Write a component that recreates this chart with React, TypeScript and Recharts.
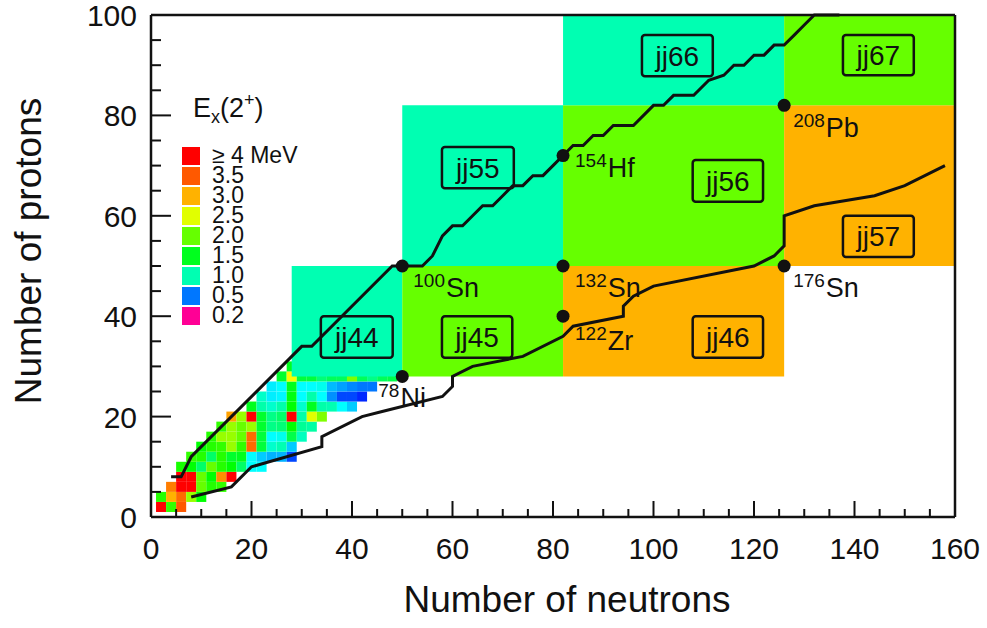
import React from 'react';
import { ScatterChart, Scatter, XAxis, YAxis, ReferenceArea, Legend } from 'recharts';

const FONT = '"Liberation Sans", Arial, Helvetica, sans-serif';
const INK = '#111';

// E(2+) of even-even nuclei, one row per proton number: [N, E in MeV]
const rowZ2 = [[2, 4.2], [4, 1.8], [6, 3.5]];
const rowZ4 = [[2, 1.75], [4, 3.0], [6, 3.4], [8, 2.2], [10, 1.6]];
const rowZ6 = [[4, 3.3], [6, 4.2], [8, 4.2], [10, 2.0], [12, 1.75], [14, 1.8]];
const rowZ8 = [[6, 4.2], [8, 4.2], [10, 2.0], [12, 1.6], [14, 3.2], [16, 4.2]];
const rowZ10 = [[6, 1.7], [8, 1.6], [10, 1.25], [12, 2.0], [14, 1.75], [16, 1.6], [18, 1.25], [20, 0.82], [22, 0.82]];
const rowZ12 = [[8, 1.8], [10, 1.75], [12, 1.25], [14, 1.75], [16, 1.45], [18, 1.5], [20, 0.82], [22, 0.7], [24, 0.64], [26, 0.64], [28, 0.47]];
const rowZ14 = [[10, 1.6], [12, 1.75], [14, 1.8], [16, 2.2], [18, 1.8], [20, 3.4], [22, 1.4], [24, 0.94], [26, 1.0], [28, 0.7]];
const rowZ16 = [[12, 1.75], [14, 2.2], [16, 2.2], [18, 2.0], [20, 3.4], [22, 1.4], [24, 0.82], [26, 0.86], [28, 1.35], [30, 0.97]];
const rowZ18 = [[14, 1.8], [16, 2.2], [18, 2.0], [20, 2.2], [22, 1.45], [24, 1.15], [26, 1.2], [28, 1.6], [30, 1.1], [32, 1.05]];
const rowZ20 = [[16, 3.1], [18, 2.2], [20, 4.2], [22, 1.45], [24, 1.15], [26, 1.25], [28, 4.2], [30, 1.03], [32, 2.5], [34, 2.1]];
const rowZ22 = [[20, 1.5], [22, 1.03], [24, 0.94], [26, 1.03], [28, 1.6], [30, 0.94], [32, 1.5], [34, 1.03], [36, 1.0], [38, 0.82], [40, 0.7]];
const rowZ24 = [[22, 0.95], [24, 0.78], [26, 0.8], [28, 1.55], [30, 0.82], [32, 1.03], [34, 0.82], [36, 0.56], [38, 0.47], [40, 0.47], [42, 0.45]];
const rowZ26 = [[24, 0.78], [26, 0.82], [28, 1.5], [30, 0.82], [32, 0.82], [34, 0.86], [36, 0.66], [38, 0.6], [40, 0.54], [42, 0.5], [44, 0.5]];
const rowZ28 = [[26, 1.45], [28, 2.6], [30, 1.4], [32, 1.4], [34, 1.2], [36, 1.3], [38, 1.3], [40, 2.1], [42, 1.3], [44, 1.15], [46, 1.3], [48, 1.35]];
const rowZ30 = [[28, 1.5]];

const rows: [number, number[][]][] = [
  [2, rowZ2], [4, rowZ4], [6, rowZ6], [8, rowZ8], [10, rowZ10], [12, rowZ12], [14, rowZ14],
  [16, rowZ16], [18, rowZ18], [20, rowZ20], [22, rowZ22], [24, rowZ24], [26, rowZ26], [28, rowZ28], [30, rowZ30],
];

// drip lines
const protonDrip = [[4, 8], [6, 8], [8, 12], [30, 34], [32, 34], [48, 50], [50, 50], [54, 50], [56, 52], [58, 56], [60, 58], [62, 58],
  [64, 60], [66, 62], [68, 62], [70, 64], [72, 66], [74, 66], [76, 68], [78, 68], [80, 70], [82, 72], [84, 74], [86, 74], [88, 76],
  [90, 76], [92, 78], [96, 78], [100, 82], [102, 82], [104, 84], [108, 84], [111, 87], [114, 88], [116, 90], [118, 90], [120, 92],
  [122, 92], [124, 94], [126, 94], [128, 96], [130, 98], [132, 100], [137, 100]];
const neutronDrip = [[8, 4], [16, 6], [20, 10], [34, 14], [34, 16], [42, 20], [46, 21], [58, 24], [60, 26], [60, 28], [64, 30], [74, 32],
  [82, 36], [84, 38], [94, 40], [94, 42], [96, 44], [100, 46], [120, 50], [124, 52], [126, 54], [126, 60], [132, 62], [144, 64],
  [150, 66], [158, 70]];

// doubly magic / reference nuclei
const nuclei = [
  { a: 78, el: 'Ni', n: 50, z: 28 },
  { a: 100, el: 'Sn', n: 50, z: 50 },
  { a: 154, el: 'Hf', n: 82, z: 72 },
  { a: 132, el: 'Sn', n: 82, z: 50 },
  { a: 122, el: 'Zr', n: 82, z: 40 },
  { a: 208, el: 'Pb', n: 126, z: 82 },
  { a: 176, el: 'Sn', n: 126, z: 50 },
];

// model spaces: [name, N from, N to, Z from, Z to]
const spaces: [string, number, number, number, number][] = [
  ['jj44', 28, 50, 28, 50], ['jj45', 50, 82, 28, 50], ['jj46', 82, 126, 28, 50],
  ['jj55', 50, 82, 50, 82], ['jj56', 82, 126, 50, 82], ['jj57', 126, 160, 50, 82],
  ['jj66', 82, 126, 82, 100], ['jj67', 126, 160, 82, 100],
];
const spaceE: Record<string, number> = { jj44: 1.0, jj55: 1.0, jj66: 1.0, jj45: 2.0, jj56: 2.0, jj67: 2.0, jj46: 3.0, jj57: 3.0 };

// name tags of the model spaces: [name, N from, N to, Z from, Z to]
const tags: [string, number, number, number, number][] = [
  ['jj44', 33.8, 48.1, 31.7, 40], ['jj45', 57.9, 71.9, 31.7, 40], ['jj46', 107.8, 121.8, 31.7, 40],
  ['jj55', 57.9, 72.2, 65.5, 73.7], ['jj56', 107.8, 121.8, 62.8, 71.1], ['jj57', 137.7, 151.8, 51.8, 60],
  ['jj66', 97.7, 111.8, 87.8, 96], ['jj67', 137.7, 151.8, 88, 96],
];

const legendLabels = ['≥ 4 MeV', '3.5', '3.0', '2.5', '2.0', '1.5', '1.0', '0.5', '0.2'];
const legendValues = [4.0, 3.5, 3.0, 2.5, 2.0, 1.5, 1.0, 0.5, 0.2];

const xTicks = [0, 5, 10, 15, 20, 25, 30, 35, 40, 45, 50, 55, 60, 65, 70, 75, 80, 85, 90, 95, 100, 105, 110, 115, 120, 125, 130, 135, 140, 145, 150, 155, 160];
const yTicks = [0, 5, 10, 15, 20, 25, 30, 35, 40, 45, 50, 55, 60, 65, 70, 75, 80, 85, 90, 95, 100];

const hueStops = [[0.2, 325], [0.5, 212], [1.0, 162], [1.5, 127], [2.0, 96], [2.5, 67], [3.0, 42], [3.5, 21], [4.0, 0]];
function colorFor(e: number) {
  if (e >= 4) return 'hsl(0,100%,50%)';
  if (e <= 0.2) return 'hsl(325,100%,50%)';
  for (let i = 0; i < hueStops.length - 1; i++) {
    const [e0, h0] = hueStops[i];
    const [e1, h1] = hueStops[i + 1];
    if (e >= e0 && e <= e1) {
      const h = h0 + ((e - e0) / (e1 - e0)) * (h1 - h0);
      return `hsl(${h.toFixed(1)},100%,50%)`;
    }
  }
  return '#000';
}

const W = 987;
const H = 628;
const LEFT = 151, RIGHT = 32, TOP = 15, BOTTOM = 111;
const cellW = ((W - LEFT - RIGHT) / 160) * 2;
const cellH = ((H - TOP - BOTTOM) / 100) * 2;

const labelOffset: Record<string, [number, number]> = {
  '78Ni': [-24, 21], '100Sn': [11, 21], '154Hf': [12, 11], '132Sn': [12, 21],
  '122Zr': [12, 24], '208Pb': [9, 22], '176Sn': [9, 21],
};

const cells = rows.flatMap(([z, row]) => row.map(([n, e]) => ({ n, z, e })));
const toPts = (arr: number[][]) => arr.map(([n, z]) => ({ n, z }));

function CellShape(props: any) {
  const { cx, cy, payload } = props;
  return <rect x={cx - cellW / 2} y={cy - cellH / 2} width={cellW} height={cellH} fill={colorFor(payload.e)} />;
}

function NucleusShape(props: any) {
  const { cx, cy, payload } = props;
  const [dx, dy] = labelOffset[`${payload.a}${payload.el}`] || [10, 20];
  return (
    <g>
      <circle cx={cx} cy={cy} r={6.5} fill={INK} />
      <text x={cx + dx} y={cy + dy} fontFamily={FONT} fill={INK}>
        <tspan fontSize={19}>{payload.a}</tspan>
        <tspan fontSize={27} dy={10} dx={1}>{payload.el}</tspan>
      </text>
    </g>
  );
}

const tickProps = { fontFamily: FONT, fill: INK, fontSize: 30 };

function BottomTick({ x, y, payload }: any) {
  const major = payload.value % 20 === 0;
  return (
    <g>
      <line x1={x} x2={x} y1={y} y2={y - (major ? 16 : 8)} stroke={INK} strokeWidth={2} />
      {major && <text x={x} y={y + 42} textAnchor="middle" {...tickProps}>{payload.value}</text>}
    </g>
  );
}
function TopTick({ x, y, payload }: any) {
  const major = payload.value % 20 === 0;
  return <line x1={x} x2={x} y1={y} y2={y + (major ? 17 : 9)} stroke={INK} strokeWidth={2} />;
}
function LeftTick({ x, y, payload }: any) {
  const major = payload.value % 20 === 0;
  return (
    <g>
      <line x1={x} x2={x + (major ? 20 : 10)} y1={y} y2={y} stroke={INK} strokeWidth={2} />
      {major && <text x={x - 14} y={y + 11} textAnchor="end" {...tickProps}>{payload.value}</text>}
    </g>
  );
}
function RightTick({ x, y, payload }: any) {
  const major = payload.value % 20 === 0;
  return <line x1={x} x2={x - (major ? 20 : 10)} y1={y} y2={y} stroke={INK} strokeWidth={2} />;
}

function EnergyLegend() {
  return (
    <svg width={160} height={240} style={{ overflow: 'visible' }}>
      <text x={18} y={27} fontFamily={FONT} fill={INK} fontSize={27}>
        E<tspan fontSize={18} dy={6}>x</tspan>
        <tspan dy={-6}>(2</tspan>
        <tspan fontSize={18} dy={-11}>+</tspan>
        <tspan dy={11}>)</tspan>
      </text>
      {legendValues.map((v, i) => (
        <g key={i}>
          <rect x={7} y={57 + i * 20} width={18} height={18} fill={colorFor(v)} />
          <text x={37} y={73 + i * 20} fontFamily={FONT} fill={INK} fontSize={23}>{legendLabels[i]}</text>
        </g>
      ))}
    </svg>
  );
}

export default function App() {
  const axisLine = { stroke: INK, strokeWidth: 2.5 };
  return (
    <div style={{ position: 'absolute', left: 0, top: 0, width: W, height: H, background: '#fff', fontFamily: FONT }}>
      <ScatterChart width={W} height={H} margin={{ top: 0, right: 0, bottom: 0, left: 0 }}>
        <Scatter data={cells} shape={CellShape} isAnimationActive={false} zIndex={300} />
        {spaces.map(([name, n1, n2, z1, z2]) => (
          <ReferenceArea key={name} x1={n1} x2={n2} y1={z1} y2={z2} fill={colorFor(spaceE[name])} fillOpacity={1}
            stroke="none" ifOverflow="visible" zIndex={400} />
        ))}
        <XAxis type="number" dataKey="n" domain={[0, 160]} ticks={xTicks} interval={0} height={BOTTOM}
          tickSize={0} tickMargin={0} tickLine={false} axisLine={axisLine} tick={BottomTick}
          label={{
            content: ({ viewBox }: any) => (
              <text x={viewBox.x + viewBox.width / 2 + 14} y={viewBox.y + 95} textAnchor="middle"
                fontFamily={FONT} fontSize={37} fill={INK}>Number of neutrons</text>
            ),
          }} />
        <XAxis xAxisId="top" orientation="top" type="number" domain={[0, 160]} ticks={xTicks} interval={0} height={TOP}
          tickSize={0} tickMargin={0} tickLine={false} axisLine={axisLine} tick={TopTick} />
        <YAxis type="number" dataKey="z" domain={[0, 100]} ticks={yTicks} interval={0} width={LEFT}
          tickSize={0} tickMargin={0} tickLine={false} axisLine={axisLine} tick={LeftTick}
          label={{
            content: ({ viewBox }: any) => {
              const cx = 41;
              const cy = viewBox.y + viewBox.height / 2 - 15;
              return (
                <text x={cx} y={cy} transform={`rotate(-90 ${cx} ${cy})`} textAnchor="middle"
                  fontFamily={FONT} fontSize={37} fill={INK}>Number of protons</text>
              );
            },
          }} />
        <YAxis yAxisId="right" orientation="right" type="number" domain={[0, 100]} ticks={yTicks} interval={0} width={RIGHT}
          tickSize={0} tickMargin={0} tickLine={false} axisLine={axisLine} tick={RightTick} />
        <Scatter data={toPts(protonDrip)} line={{ stroke: INK, strokeWidth: 3 }} lineType="joint" shape={() => <g />}
          isAnimationActive={false} zIndex={600} />
        <Scatter data={toPts(neutronDrip)} line={{ stroke: INK, strokeWidth: 3 }} lineType="joint" shape={() => <g />}
          isAnimationActive={false} zIndex={600} />
        {tags.map(([name, n1, n2, z1, z2]) => (
          <ReferenceArea key={`tag-${name}`} x1={n1} x2={n2} y1={z1} y2={z2} fill="none" stroke={INK} strokeWidth={2.5}
            radius={3} zIndex={650} label={{ value: name, position: 'center', fontSize: 28, fill: INK, fontFamily: FONT }} />
        ))}
        <Scatter data={nuclei} shape={NucleusShape} isAnimationActive={false} zIndex={700} />
        <Legend layout="horizontal" align="center" verticalAlign="middle" content={() => <EnergyLegend />}
          wrapperStyle={{ position: 'absolute', left: 175, top: 90, width: 160, height: 240 }} />
      </ScatterChart>
    </div>
  );
}
